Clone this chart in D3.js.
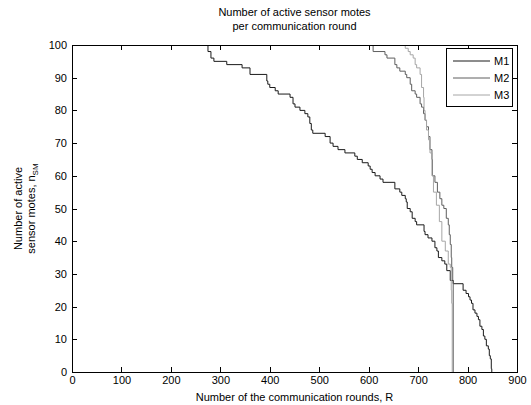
<!DOCTYPE html>
<html>
<head>
<meta charset="utf-8">
<script src="https://cdn.jsdelivr.net/npm/d3@7/dist/d3.min.js"></script>
<style>
  html, body { margin: 0; padding: 0; background: #fff; }
  svg { display: block; }
  text { font-family: Arial, "Liberation Sans", sans-serif; fill: #000; }
</style>
</head>
<body>
<svg id="chart" width="531" height="405"></svg>
<script>
// Active motes per round for each method: [round, motes alive from that round on]
const seriesNames = ["M1", "M2", "M3"];

const m1 = [
  [0,100],[273,100],[275,98],[281,96],[287,95],[313,94],[344,93],[360,91],[394,89],[396,88],
  [400,87],[411,86],[417,85],[441,84],[447,82],[451,81],[461,80],[471,79],[477,78],[481,76],
  [484,74],[487,73],[512,72],[522,70],[528,69],[538,68],[552,67],[572,66],[577,65],[587,64],
  [599,63],[603,62],[607,61],[613,60],[623,59],[629,58],[653,56],[663,55],[667,54],[674,53],
  [676,52],[678,50],[684,49],[688,47],[694,46],[697,45],[712,43],[714,42],[720,41],[728,40],
  [734,38],[738,37],[741,35],[748,34],[754,33],[758,31],[765,28],[771,27],[791,25],[797,24],
  [802,23],[805,22],[808,21],[811,19],[815,18],[819,17],[822,16],[825,14],[829,13],[832,11],
  [835,10],[838,8],[842,7],[844,5],[846,4],[848,1],[849,0]
];

const m2 = [
  [0,100],[607,100],[609,98],[633,97],[637,96],[653,94],[657,93],[663,92],[674,91],[677,90],
  [684,88],[687,86],[694,85],[697,84],[704,82],[707,81],[711,79],[714,77],[717,75],[721,72],
  [724,68],[728,65],[729,60],[734,58],[739,55],[744,53],[748,51],[752,50],[757,47],[761,45],
  [763,42],[765,39],[767,35],[768,32],[770,28],[771,0]
];

const m3 = [
  [0,100],[660,100],[674,99],[680,98],[684,97],[690,96],[694,94],[697,93],[704,91],[707,87],
  [711,84],[712,80],[714,77],[717,74],[721,71],[724,67],[728,60],[731,55],[737,51],[743,46],
  [748,40],[755,37],[761,33],[765,32],[767,25],[768,21],[769,0]
];

const seriesData = [m1, m2, m3];
const seriesColors = ["#1a1a1a", "#5e5e5e", "#a6a6a6"];

const xTicks = [0, 100, 200, 300, 400, 500, 600, 700, 800, 900];
const yTicks = [0, 10, 20, 30, 40, 50, 60, 70, 80, 90, 100];

const margin = { left: 72, right: 14, top: 45, bottom: 33 };
const W = 531, H = 405;
const plotW = W - margin.left - margin.right;
const plotH = H - margin.top - margin.bottom;

const svg = d3.select("#chart");
const g = svg.append("g").attr("transform", `translate(${margin.left},${margin.top})`);

const x = d3.scaleLinear().domain([0, 900]).range([0, plotW]);
const y = d3.scaleLinear().domain([0, 100]).range([plotH, 0]);

// curves
const line = d3.line()
  .x(d => x(d[0]))
  .y(d => y(d[1]))
  .curve(d3.curveStepAfter);

g.append("defs").append("clipPath").attr("id", "plotClip")
  .append("rect").attr("width", plotW).attr("height", plotH);

const curves = g.append("g").attr("clip-path", "url(#plotClip)");
seriesData.forEach((s, i) => {
  curves.append("path")
    .datum(s)
    .attr("fill", "none")
    .attr("stroke", seriesColors[i])
    .attr("stroke-width", 1)
    .attr("d", line);
});

// axes with inward ticks on all four sides
const axisStyle = sel => {
  sel.selectAll("path").attr("stroke", "#000");
  sel.selectAll("line").attr("stroke", "#000");
  sel.selectAll("text").style("font-size", "11px").attr("fill", "#000");
};

g.append("g").attr("transform", `translate(0,${plotH})`)
  .call(d3.axisBottom(x).tickValues(xTicks).tickSizeInner(-5).tickSizeOuter(0).tickPadding(3))
  .call(axisStyle);
g.append("g")
  .call(d3.axisTop(x).tickValues(xTicks).tickSizeInner(-5).tickSizeOuter(0).tickFormat(""))
  .call(axisStyle);
g.append("g")
  .call(d3.axisLeft(y).tickValues(yTicks).tickSizeInner(-5).tickSizeOuter(0).tickPadding(3))
  .call(axisStyle);
g.append("g").attr("transform", `translate(${plotW},0)`)
  .call(d3.axisRight(y).tickValues(yTicks).tickSizeInner(-5).tickSizeOuter(0).tickFormat(""))
  .call(axisStyle);

// tick labels sit just outside the frame since the ticks point inward
g.selectAll(".tick text").each(function () {
  const t = d3.select(this);
  if (t.attr("x") !== null && +t.attr("x") < 0) t.attr("x", -5);
  if (t.attr("y") !== null && +t.attr("y") > 0) t.attr("y", 4);
});

g.selectAll(".domain").attr("shape-rendering", "crispEdges");
g.selectAll(".tick line").attr("shape-rendering", "crispEdges");

// title
const title = svg.append("text")
  .attr("x", margin.left + plotW / 2)
  .attr("y", 16)
  .attr("text-anchor", "middle")
  .style("font-size", "11px");
title.append("tspan").attr("x", margin.left + plotW / 2).text("Number of active sensor motes");
title.append("tspan").attr("x", margin.left + plotW / 2).attr("dy", 14).text("per communication round");

// x label
svg.append("text")
  .attr("x", margin.left + plotW / 2)
  .attr("y", 401)
  .attr("text-anchor", "middle")
  .style("font-size", "11px")
  .text("Number of the communication rounds, R");

// y label (two lines, subscript on n)
const yl = svg.append("g")
  .attr("transform", `translate(22,${margin.top + plotH / 2}) rotate(-90)`);
yl.append("text").attr("text-anchor", "middle").attr("y", 0)
  .style("font-size", "11px").text("Number of active");
const yl2 = yl.append("text").attr("text-anchor", "middle").attr("y", 13)
  .style("font-size", "11px");
yl2.append("tspan").text("sensor motes, n");
yl2.append("tspan").attr("dy", 3).style("font-size", "8px").text("SM");

// legend
const lg = g.append("g").attr("transform", `translate(${plotW - 71},3)`);
lg.append("rect").attr("width", 66).attr("height", 58)
  .attr("fill", "#fff").attr("stroke", "#000").attr("shape-rendering", "crispEdges");
seriesNames.forEach((name, i) => {
  const ry = 13 + i * 17;
  lg.append("line").attr("x1", 7).attr("x2", 44).attr("y1", ry).attr("y2", ry)
    .attr("stroke", seriesColors[i]).attr("stroke-width", 1);
  lg.append("text").attr("x", 48).attr("y", ry + 4)
    .style("font-size", "11px").text(name);
});
</script>
</body>
</html>
